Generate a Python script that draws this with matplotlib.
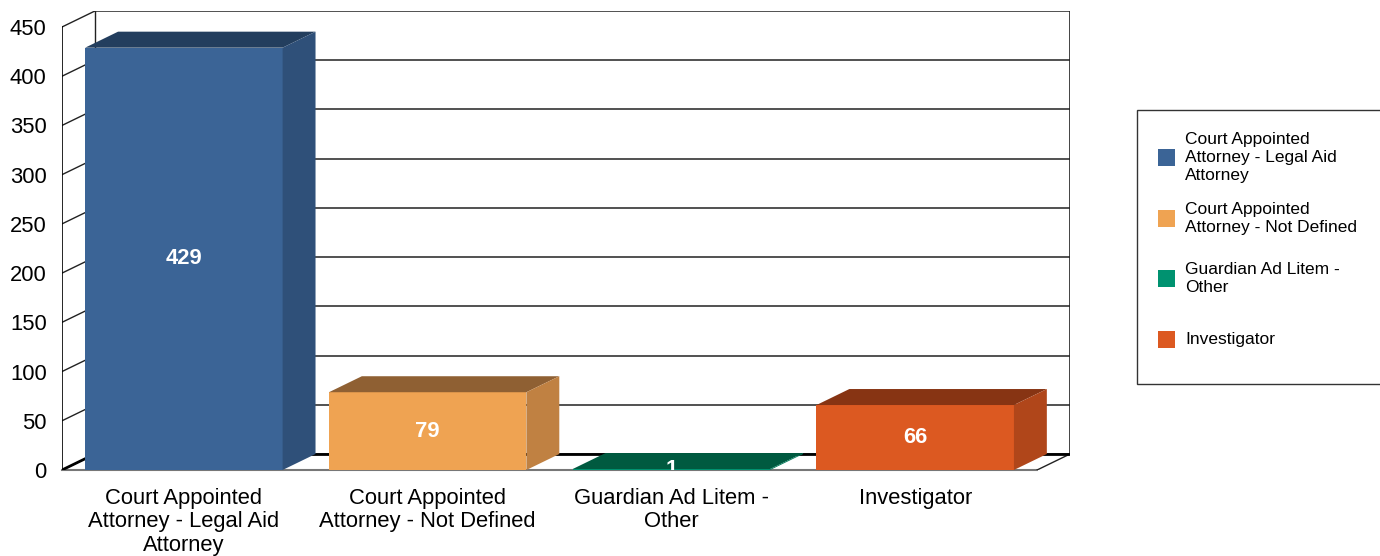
import matplotlib
matplotlib.use('Agg')
import matplotlib.pyplot as plt
from matplotlib.patches import Polygon, Rectangle

plt.rcParams['font.family'] = ['Liberation Sans', 'DejaVu Sans']

categories = ['Court Appointed\nAttorney - Legal Aid\nAttorney',
              'Court Appointed\nAttorney - Not Defined',
              'Guardian Ad Litem -\nOther',
              'Investigator']
values = [429, 79, 1, 66]
yticks = [0, 50, 100, 150, 200, 250, 300, 350, 400, 450]

front = ['#3b6496', '#efa352', '#009270', '#dc5921']
top = ['#233e5e', '#8f6033', '#005a40', '#873413']
side = ['#2f5079', '#c08142', '#007a5a', '#b0461a']

W, H = 1380, 556
fig = plt.figure(figsize=(W / 100, H / 100), dpi=100)
ax = fig.add_axes([62 / W, 86 / H, 1008 / W, 459 / H])

# fake 3d depth (data units)
dx, dy = 0.135, 16.25
n = len(categories)
x_left, x_right = -0.5, n - 0.5
ymax = yticks[-1]
ax.set_xlim(x_left, x_right + dx)
ax.set_ylim(0, ymax + dy)
for s in ax.spines.values():
    s.set_visible(False)

# back wall + side wall grid
for v in yticks:
    ax.plot([x_left + dx, x_right + dx], [v + dy, v + dy], color='#222222', lw=1.1, zorder=1)
    ax.plot([x_left, x_left + dx], [v, v + dy], color='#222222', lw=1, zorder=1)
ax.plot([x_left + dx, x_left + dx], [dy, ymax + dy], color='#222222', lw=1, zorder=1)
ax.plot([x_right + dx, x_right + dx], [dy, ymax + dy], color='#222222', lw=1.2, zorder=1)
ax.plot([x_left, x_left], [0, ymax], color='black', lw=1.2, zorder=1)
# floor
ax.plot([x_left, x_right], [0, 0], color='#777777', lw=1.5, zorder=1, clip_on=False)
ax.plot([x_right, x_right + dx], [0, dy], color='#222222', lw=1, zorder=1)
ax.plot([x_left, x_left + dx], [0, dy], color='black', lw=2, zorder=1)
ax.plot([x_left + dx, x_right + dx], [dy, dy], color='black', lw=2, zorder=1)

bw = 0.81
for i, v in enumerate(values):
    x0, x1 = i - bw / 2, i + bw / 2
    ax.bar(i, v, width=bw, color=front[i], zorder=3)
    ax.add_patch(Polygon([(x0, v), (x1, v), (x1 + dx, v + dy), (x0 + dx, v + dy)],
                         closed=True, facecolor=top[i], edgecolor='none', zorder=3))
    ax.add_patch(Polygon([(x1, 0), (x1 + dx, dy), (x1 + dx, v + dy), (x1, v)],
                         closed=True, facecolor=side[i], edgecolor='none', zorder=3))
    ax.text(i, v / 2, str(v), ha='center', va='center', color='white',
            fontsize=15.8, fontweight='bold', zorder=4, clip_on=True)

ax.set_yticks(yticks)
ax.set_yticklabels([str(t) for t in yticks], fontsize=15.8)
ax.set_xticks(range(n))
ax.set_xticklabels(categories, fontsize=15.8, linespacing=1.15)
ax.tick_params(axis='both', length=0)
ax.tick_params(axis='y', pad=11)
ax.tick_params(axis='x', pad=13)

# legend
fig.patches.append(Rectangle((1137 / W, 1 - 384 / H), 260 / W, 274 / H,
                             transform=fig.transFigure, facecolor='white',
                             edgecolor='#333333', lw=1, zorder=0))
for i, lab in enumerate(categories):
    yc = 157.5 + i * 60.7
    fig.patches.append(Rectangle((1158 / W, 1 - (yc + 8.5) / H), 17 / W, 17 / H,
                                 transform=fig.transFigure, facecolor=front[i],
                                 edgecolor='none'))
    fig.text(1185 / W, 1 - yc / H, lab, fontsize=12.5, va='center', ha='left',
             linespacing=1.26)

fig.savefig('out.png', dpi=100)
